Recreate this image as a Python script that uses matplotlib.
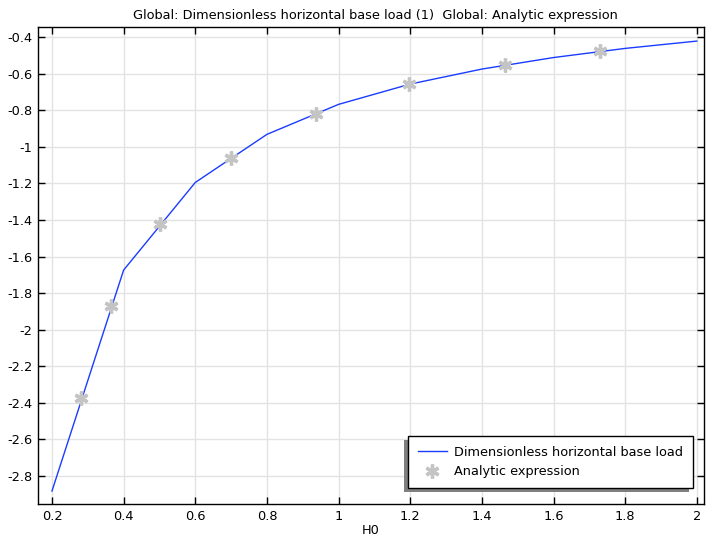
import matplotlib
matplotlib.use("Agg")
import matplotlib.pyplot as plt
from matplotlib.patches import Rectangle
from matplotlib.ticker import FuncFormatter, MultipleLocator
from matplotlib.transforms import IdentityTransform

# Solver result (line) and analytic expression (markers)
h0_line = [0.2, 0.4, 0.6, 0.8, 1.0, 1.2, 1.4, 1.6, 1.8, 2.0]
load_line = [-2.882, -1.674, -1.195, -0.932, -0.768, -0.657, -0.575, -0.512, -0.462, -0.422]

h0_analytic = [0.282, 0.366, 0.502, 0.700, 0.937, 1.197, 1.464, 1.730]
load_analytic = [-2.374, -1.871, -1.422, -1.062, -0.821, -0.657, -0.553, -0.477]

title_text = "Global: Dimensionless horizontal base load (1)  Global: Analytic expression"
line_label = "Dimensionless horizontal base load"
marker_label = "Analytic expression"

fs = 9.3
plt.rcParams['font.family'] = ['DejaVu Sans']
plt.rcParams['font.size'] = fs
plt.rcParams['axes.unicode_minus'] = False

fig = plt.figure(figsize=(7.06, 5.41), dpi=100)
ax = fig.add_axes([38 / 706, 1 - 504 / 541, 666 / 706, 477 / 541])

ax.plot(h0_line, load_line, color='#1a3cff', lw=1.0, label=line_label, zorder=3)
ax.plot(h0_analytic, load_analytic, ls='none', marker=(6, 2, 0), ms=10, mew=2.4,
        color='#c4c4c4', label=marker_label, zorder=4)

ax.set_xlim(0.161, 2.02)
ax.set_ylim(-2.953, -0.345)
ax.xaxis.set_major_locator(MultipleLocator(0.2))
ax.yaxis.set_major_locator(MultipleLocator(0.2))
fmt = FuncFormatter(lambda v, p: '%g' % round(v, 6))
ax.xaxis.set_major_formatter(fmt)
ax.yaxis.set_major_formatter(fmt)
ax.tick_params(direction='in', length=5, width=1, top=True, right=True,
               labelsize=fs, colors='black', pad=4)
ax.grid(True, color='#e3e3e3', lw=1)
ax.set_axisbelow(True)
for s in ax.spines.values():
    s.set_linewidth(1.0)

ax.set_title(title_text, fontsize=fs, pad=6, x=0.506)
ax.set_xlabel("H0", fontsize=fs, labelpad=1)

leg = ax.legend(loc='lower right', bbox_to_anchor=(0.9835, 0.0335), borderaxespad=0,
                fancybox=False, framealpha=1, edgecolor='black', fontsize=fs,
                handlelength=2.3, handletextpad=0.55, labelspacing=0.5,
                borderpad=0.75)
leg.get_frame().set_linewidth(1.0)
leg.set_zorder(5)

# COMSOL style shadow offset to lower left
fig.canvas.draw()
bb = leg.get_window_extent()
shadow = Rectangle((bb.x0 - 4, bb.y0 - 4), bb.width, bb.height, transform=IdentityTransform(),
                   facecolor='#7f7f7f', edgecolor='none', zorder=4.9, clip_on=False)
ax.add_patch(shadow)

fig.savefig("out.png", dpi=100)
